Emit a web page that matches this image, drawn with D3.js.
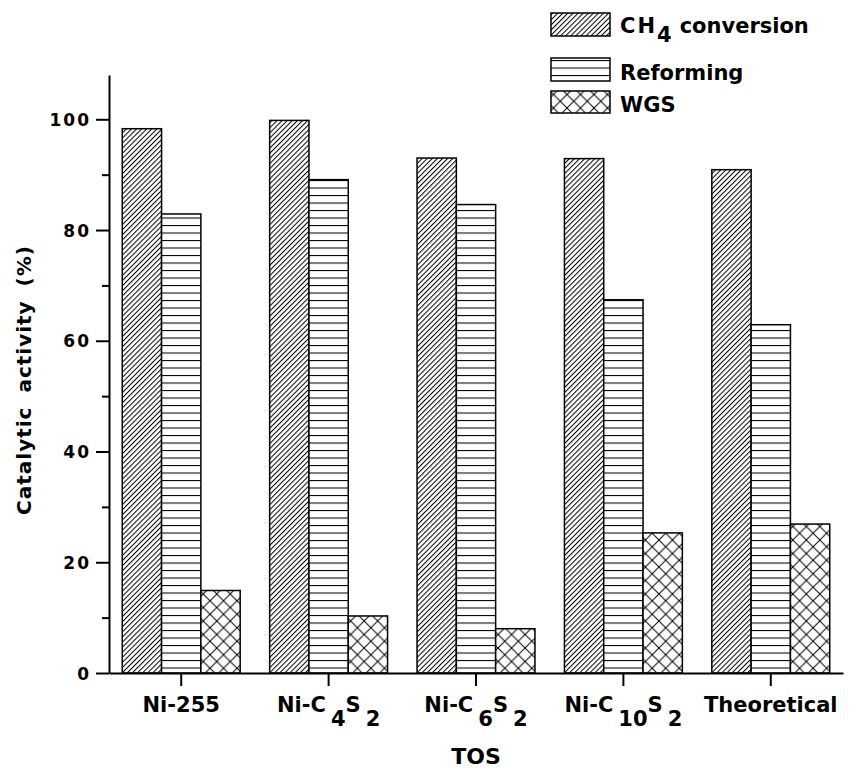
<!DOCTYPE html>
<html>
<head>
<meta charset="utf-8">
<script src="https://cdn.jsdelivr.net/npm/d3@7/dist/d3.min.js"></script>
<style>
  html, body { margin: 0; padding: 0; background: #fff; }
  svg { display: block; }
  text { font-family: "DejaVu Sans", sans-serif; font-weight: bold; fill: #000; }
</style>
</head>
<body>
<div id="chart"></div>
<script>
// Catalytic activity per catalyst: CH4 conversion, reforming and WGS contributions
const categories = ["Ni-255", "Ni-C4S2", "Ni-C6S2", "Ni-C10S2", "Theoretical"];
// Tick label pieces: [text, isSubscript]
const categoryLabels = [
  [["Ni-255", 0]],
  [["Ni-C", 0], ["4", 1], ["S", 0], ["2", 1]],
  [["Ni-C", 0], ["6", 1], ["S", 0], ["2", 1]],
  [["Ni-C", 0], ["10", 1], ["S", 0], ["2", 1]],
  [["Theoretical", 0]]
];
const seriesNames = ["CH4 conversion", "Reforming", "WGS"];
const ch4Conversion = [98.3, 99.8, 93.0, 92.9, 90.9];
const reforming = [82.9, 89.1, 84.6, 67.4, 62.9];
const wgs = [14.9, 10.3, 8.0, 25.3, 26.9];
const yMajorTicks = [0, 20, 40, 60, 80, 100];
const yMinorTicks = [10, 30, 50, 70, 90];
const yMax = 108;

const seriesValues = [ch4Conversion, reforming, wgs];

const W = 857, H = 771;
const plotLeft = 109, plotRight = 843, plotTop = 75, plotBottom = 673;

const svg = d3.select("#chart").append("svg")
  .attr("width", W).attr("height", H);

// Hatch fills
const defs = svg.append("defs");
const diag = defs.append("pattern").attr("id", "hatch-diag")
  .attr("patternUnits", "userSpaceOnUse")
  .attr("width", 3.6).attr("height", 10)
  .attr("patternTransform", "rotate(45)");
diag.append("rect").attr("width", 3.6).attr("height", 10).attr("fill", "#fff");
diag.append("line").attr("x1", 0.5).attr("x2", 0.5).attr("y1", 0).attr("y2", 10)
  .attr("stroke", "#000").attr("stroke-width", 1);

const horiz = defs.append("pattern").attr("id", "hatch-horiz")
  .attr("patternUnits", "userSpaceOnUse")
  .attr("width", 10).attr("height", 7.5);
horiz.append("rect").attr("width", 10).attr("height", 7.5).attr("fill", "#fff");
horiz.append("line").attr("x1", 0).attr("x2", 10).attr("y1", 0.5).attr("y2", 0.5)
  .attr("stroke", "#000").attr("stroke-width", 1.1);

const cross = defs.append("pattern").attr("id", "hatch-cross")
  .attr("patternUnits", "userSpaceOnUse")
  .attr("width", 13.5).attr("height", 13.5);
cross.append("rect").attr("width", 13.5).attr("height", 13.5).attr("fill", "#fff");
cross.append("path").attr("d", "M0,0L13.5,13.5M13.5,0L0,13.5")
  .attr("stroke", "#000").attr("stroke-width", 1).attr("fill", "none");

const fills = ["url(#hatch-diag)", "url(#hatch-horiz)", "url(#hatch-cross)"];

// Scales
const x = d3.scaleBand().domain(categories).range([plotLeft, plotRight])
  .paddingInner(0.2).paddingOuter(0.09);
const xs = d3.scaleBand().domain(seriesNames).range([0, x.bandwidth()]);
const y = d3.scaleLinear().domain([0, yMax]).range([plotBottom, plotTop]);

// Bars
const rows = categories.map((c, i) => ({
  cat: c,
  vals: seriesNames.map((s, j) => ({ s, j, v: seriesValues[j][i] }))
}));
const groups = svg.append("g").selectAll("g").data(rows).join("g")
  .attr("transform", d => `translate(${x(d.cat)},0)`);
groups.selectAll("rect").data(d => d.vals).join("rect")
  .attr("x", d => xs(d.s))
  .attr("y", d => y(d.v))
  .attr("width", xs.bandwidth())
  .attr("height", d => y(0) - y(d.v))
  .attr("fill", d => fills[d.j])
  .attr("stroke", "#000")
  .attr("stroke-width", 1.5);

// Y axis
const yAxis = svg.append("g").attr("transform", `translate(${plotLeft},0)`)
  .call(d3.axisLeft(y).tickValues(yMajorTicks).tickSize(13).tickSizeOuter(0).tickPadding(5));
yAxis.selectAll("text").attr("font-size", 17).style("letter-spacing", "2px")
  .attr("font-family", "DejaVu Sans").attr("font-weight", "bold").attr("dy", "0.36em");
svg.append("g").attr("transform", `translate(${plotLeft},0)`)
  .call(d3.axisLeft(y).tickValues(yMinorTicks).tickSize(7).tickFormat(""))
  .select(".domain").remove();

// X axis
svg.append("g").attr("transform", `translate(0,${plotBottom})`)
  .call(d3.axisBottom(x).tickSize(13).tickSizeOuter(0).tickFormat(""));
svg.selectAll(".domain").attr("stroke-width", 2);
svg.selectAll(".tick line").attr("stroke-width", 2);

// Category labels with subscripts
const labelG = svg.append("g");
categories.forEach((c, i) => {
  const t = labelG.append("text")
    .attr("x", x(c) + x.bandwidth() / 2)
    .attr("y", 712)
    .attr("text-anchor", "middle")
    .attr("font-size", 21);
  let shifted = false;
  categoryLabels[i].forEach(([txt, sub], k) => {
    const ts = t.append("tspan").text(txt);
    if (sub && !shifted) { ts.attr("dy", 14).attr("dx", k ? 5 : 0); shifted = true; }
    else if (!sub && shifted) { ts.attr("dy", -14); shifted = false; }
    else if (sub && shifted) { ts.attr("dx", 5); }
  });
});

// Axis titles
svg.append("text").attr("x", (plotLeft + plotRight) / 2).attr("y", 764)
  .attr("text-anchor", "middle").attr("font-size", 22).text("TOS");
svg.append("text")
  .attr("transform", `translate(31,380) rotate(-90)`)
  .attr("text-anchor", "middle").attr("font-size", 20)
  .style("letter-spacing", "1px").style("word-spacing", "6px")
  .text("Catalytic activity (%)");

// Legend
const legendY = [13, 58, 91];
const legendH = [23, 23, 22];
const legend = svg.append("g");
seriesNames.forEach((s, j) => {
  legend.append("rect").attr("x", 551).attr("y", legendY[j])
    .attr("width", 59).attr("height", legendH[j])
    .attr("fill", fills[j]).attr("stroke", "#000").attr("stroke-width", 1.5);
});
const l0 = legend.append("text").attr("x", 620).attr("y", 33).attr("font-size", 21);
l0.append("tspan").text("CH").style("letter-spacing", "2px");
l0.append("tspan").text("4").attr("dy", 9);
l0.append("tspan").text("conversion").attr("dy", -9).attr("dx", 8);
legend.append("text").attr("x", 620).attr("y", 80).attr("font-size", 21).text("Reforming");
legend.append("text").attr("x", 620).attr("y", 112).attr("font-size", 21).text("WGS");
</script>
</body>
</html>
